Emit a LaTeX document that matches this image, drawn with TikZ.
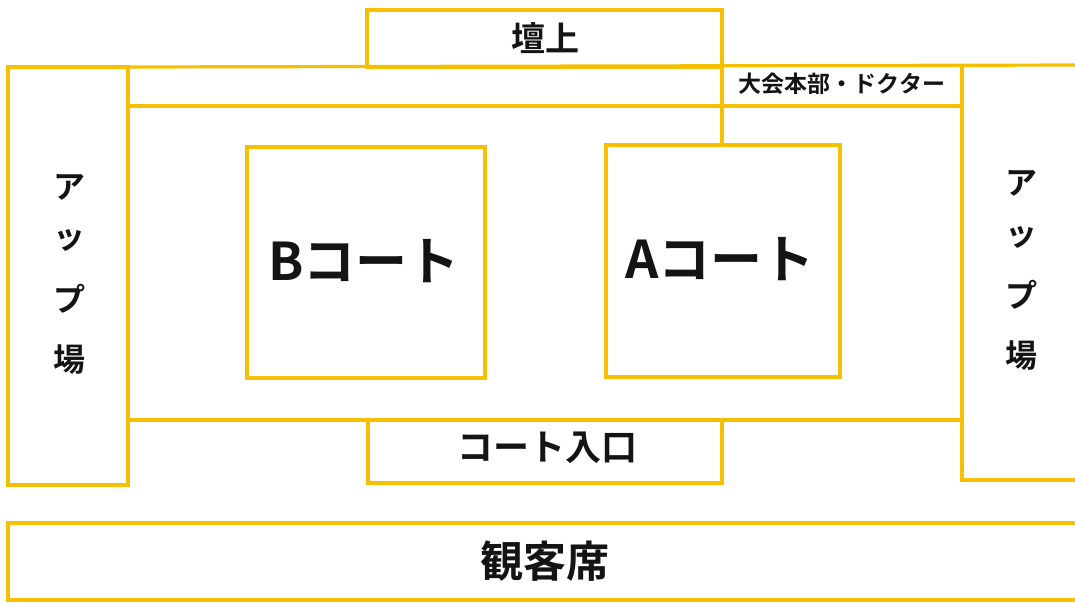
\documentclass[tikz,border=0pt]{standalone}
\usepackage{fontspec}
\setmainfont{Noto Sans CJK JP}[BoldFont={Noto Sans CJK JP Bold}]
\definecolor{wallc}{RGB}{245,192,0}
\definecolor{inkc}{RGB}{20,20,20}
\tikzset{
  wall/.style={draw=wallc, line width=3.2pt},
  lbl/.style={text=inkc, font=\bfseries, inner sep=0pt, anchor=center},
}
\begin{document}
\begin{tikzpicture}[x=1pt,y=-1pt]
\useasboundingbox (0,0) rectangle (1075,603);
\begin{scope}
\clip (0,0) rectangle (1075,603);
% left warm-up area
\draw[wall] (8,67) rectangle (128,485);
% top line
\draw[wall] (128,67) -- (1085,65);
% stage box
\draw[wall] (367,10) rectangle (722,67);
% vertical line from stage to court A
\draw[wall] (722,10) -- (722,145);
% HQ band bottom
\draw[wall] (128,106) -- (962,106);
% right warm-up area
\draw[wall] (962,65) -- (962,480) -- (1085,480);
% main floor bottom
\draw[wall] (128,420) -- (962,420);
% courts
\draw[wall] (247,147) rectangle (485,378);
\draw[wall] (606,145) rectangle (840,377);
% court entrance
\draw[wall] (368,420) -- (368,483) -- (722,483) -- (722,420);
% audience seats
\draw[wall] (1085,523) -- (8,523) -- (8,600) -- (1085,600);
\end{scope}
% labels
\node[lbl, font=\bfseries\fontsize{34}{34}\selectfont] (stage) at (545,38) {壇上};
\node[lbl, font=\bfseries\fontsize{23}{23}\selectfont] (hq) at (842,84) {大会本部・ドクター};
\node[lbl, font=\bfseries\fontsize{52}{52}\selectfont] (courtB) at (364,261) {Bコート};
\node[lbl, font=\bfseries\fontsize{52}{52}\selectfont] (courtA) at (720,259) {Aコート};
\node[lbl, font=\bfseries\fontsize{36}{36}\selectfont] (entry) at (547,448) {コート入口};
\node[lbl, font=\bfseries\fontsize{43}{43}\selectfont] (seats) at (545,561) {観客席};
% vertical labels
\foreach \c/\y/\n in {ア/187/a, ッ/240/b, プ/299/c, 場/360/d}{
  \node[lbl, font=\bfseries\fontsize{32}{32}\selectfont] (L\n) at (69,\y) {\c};
}
\foreach \c/\y/\n in {ア/183/a, ッ/237/b, プ/295/c, 場/356/d}{
  \node[lbl, font=\bfseries\fontsize{32}{32}\selectfont] (R\n) at (1021,\y) {\c};
}
\end{tikzpicture}
\end{document}
